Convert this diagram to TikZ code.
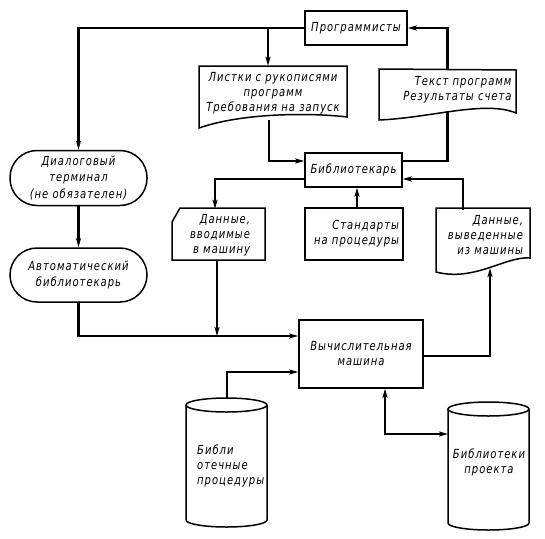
\documentclass[tikz,border=0pt]{standalone}
\usepackage{fontspec}
\newfontfamily\drf{DejaVu Sans}[LetterSpace=8, FakeStretch=0.8]
\usetikzlibrary{arrows.meta,calc}
\begin{document}
\begin{tikzpicture}[x=1pt,y=-1pt,
  every node/.style={font=\drf\itshape\fontsize{12.5}{15}\selectfont, inner sep=0pt},
  boxline/.style={line width=1.5pt, line join=miter},
  box/.style={draw, rectangle, boxline},
  conn/.style={line width=2.1pt},
  >={Stealth[length=9pt,width=5pt,inset=2pt]}]
\useasboundingbox (0,0) rectangle (545,538);
% boxes
\node[box, minimum width=102pt, minimum height=34pt] (prog) at (356,28) {Программисты};
\node[box, minimum width=97pt, minimum height=34pt] (bibl) at (353.5,170) {Библиотекарь};
\node[box, minimum width=98pt, minimum height=52pt, align=right, text width=90pt] (std) at (354,234) {Стандарты\\на процедуры};
\node[box, minimum width=124pt, minimum height=68pt, align=center] (comp) at (361,354) {Вычислительная\\машина};
\node[box, rounded corners=27pt, minimum width=137pt, minimum height=55pt, align=center, font=\drf\itshape\fontsize{12.5}{16.5}\selectfont] (term1) at (78.5,178) {Диалоговый\\терминал\\(не обязателен)};
\node[box, rounded corners=27pt, minimum width=137pt, minimum height=54pt, align=center, font=\drf\itshape\fontsize{12.5}{16.5}\selectfont] (term2) at (78.5,275) {Автоматический\\библиотекарь};
% document shapes
\node[minimum width=148pt, minimum height=54pt, align=center] (listki) at (273,93) {Листки с рукописями\\программ\\Требования на запуск};
\draw[boxline] (199,66) -- (347,66) -- (347,117) .. controls (315,113) and (245,112) .. (199,128) -- cycle;
\node[minimum width=137pt, minimum height=42pt, align=right, text width=128pt] (tekst) at (447.5,90) {Текст программ\\Результаты счета};
\draw[boxline] (379,69) -- (516,70) -- (516,113) .. controls (485,100) and (430,118) .. (379,120) -- cycle;
\node[minimum width=94pt, minimum height=50pt, align=right, text width=80pt] (vyvod) at (483,235) {Данные,\\выведенные\\из машины};
\draw[boxline] (436,208) -- (530,208) -- (530,258) .. controls (505,256) and (475,282) .. (436,272) -- cycle;
\coordinate (vyvodbot) at (490,268);
% card
\node[minimum width=93pt, minimum height=52pt, align=right, text width=66pt] (vvod) at (217,235) {Данные,\\вводимые\\в машину};
\draw[boxline] (172,222) -- (180,208) -- (265,208) -- (265,260) -- (172,260) -- cycle;
% cylinders
\draw[boxline] (226.5,405) ellipse [x radius=40.5pt, y radius=7pt];
\draw[boxline] (186,405) -- (186,520) arc[start angle=180, end angle=360, x radius=40.5pt, y radius=7pt] -- (267,405);
\node[align=left, anchor=west] (cyl1) at (197,466) {Библи\\отечные\\процедуры};
\coordinate (cyl1top) at (227,398);
\draw[boxline] (488.5,409) ellipse [x radius=40.5pt, y radius=7pt];
\draw[boxline] (448,409) -- (448,523) arc[start angle=180, end angle=360, x radius=40.5pt, y radius=7pt] -- (529,409);
\node[align=center] (cyl2) at (489,462) {Библиотеки\\проекта};
\coordinate (cyl2left) at (448,434);
% connectors
\draw[conn,->] (prog.west) -| (term1.north);
\draw[conn,->] ([xshift=-5pt]listki.north |- prog.west) -- ([xshift=-5pt]listki.north);
\draw[conn,->] ([xshift=-4pt]listki.south) |- ([yshift=9pt]bibl.west);
\draw[conn] (tekst.south) |- ([yshift=9pt]bibl.east);
\draw[conn,->] (tekst.north) |- (prog.east);
\draw[conn,->] ([yshift=-9pt]bibl.west) -| ([xshift=-2pt]vvod.north);
\draw[conn,->] ([xshift=3pt]std.north) -- ([xshift=3pt]std.north |- bibl.south);
\draw[conn,->] ([xshift=-20pt]vyvod.north) |- ([yshift=-9pt]bibl.east);
\draw[conn,->] (term1.south) -- (term2.north);
\coordinate (j1) at ([yshift=18pt]comp.west);
\draw[conn,->] (term2.south) |- (j1);
\draw[conn,->] ([xshift=0pt]vvod.south) -- ([xshift=0pt]vvod.south |- j1);
\draw[conn,->] (cyl1top) |- ([yshift=-18pt]comp.west);
\draw[conn,->] ([yshift=-2pt]comp.east) -| (vyvodbot);
\draw[conn,<->] ([xshift=24pt]comp.south) |- (cyl2left);
\end{tikzpicture}
\end{document}
